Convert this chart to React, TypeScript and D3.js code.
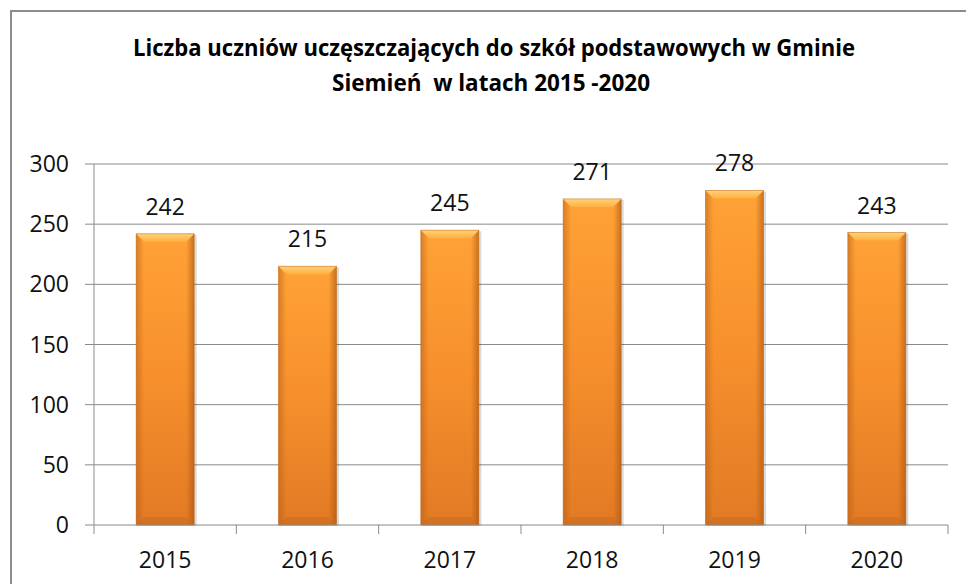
import React from 'react';
import * as d3 from 'd3';

const years = ['2015', '2016', '2017', '2018', '2019', '2020'];
const pupils = [242, 215, 245, 271, 278, 243];
const yTicks = [0, 50, 100, 150, 200, 250, 300];
const titleLines = ['Liczba uczniów uczęszczających do szkół podstawowych w Gminie', 'Siemień  w latach 2015 -2020'];

const W = 966;
const H = 584;
const plot = { left: 94, right: 948, top: 164, bottom: 525 };
const font = '"Open Sans", "Liberation Sans", sans-serif';
// measured title geometry: [centre x, baseline y, width]
const titleBoxes = [[494, 56, 722], [491, 91, 318]];
const labelSize = 23;

export default function App() {
  const x = d3.scaleBand<string>()
    .domain(years)
    .range([plot.left, plot.right])
    .paddingInner(0.592)
    .paddingOuter(0.296);
  const y = d3.scaleLinear().domain([0, 300]).range([plot.bottom, plot.top]);
  const step = x.step();
  const bw = x.bandwidth();
  const bev = 8;

  return (
    <svg width={W} height={H} style={{ position: 'absolute', left: 0, top: 0, background: '#fff' }}>
      <defs>
        <linearGradient id="barFill" x1="0" y1="0" x2="0" y2="1">
          <stop offset="0" stopColor="#ffa236" />
          <stop offset="0.5" stopColor="#f68f2c" />
          <stop offset="1" stopColor="#e17a24" />
        </linearGradient>
        <linearGradient id="sideL" x1="0" y1="0" x2="1" y2="0">
          <stop offset="0" stopColor="#b35a14" stopOpacity="0.5" />
          <stop offset="1" stopColor="#b35a14" stopOpacity="0" />
        </linearGradient>
        <linearGradient id="sideR" x1="1" y1="0" x2="0" y2="0">
          <stop offset="0" stopColor="#a4520f" stopOpacity="0.6" />
          <stop offset="1" stopColor="#a4520f" stopOpacity="0" />
        </linearGradient>
        <linearGradient id="topBev" x1="0" y1="0" x2="0" y2="1">
          <stop offset="0" stopColor="#ffd27a" />
          <stop offset="1" stopColor="#ffb040" />
        </linearGradient>
      </defs>

      {/* outer frame */}
      <rect x={11} y={11} width={W + 20} height={H + 20} fill="#fff" stroke="#8c8c8c" strokeWidth={2} />

      {titleLines.map((t, i) => (
        <text key={i} x={titleBoxes[i][0]} y={titleBoxes[i][1]} textAnchor="middle" fontFamily={font}
          fontWeight="bold" fontSize={22.5} fill="#000" textLength={titleBoxes[i][2]}
          lengthAdjust="spacingAndGlyphs" style={{ whiteSpace: 'pre' }}>{t}</text>
      ))}

      {/* gridlines + y axis */}
      {yTicks.map(v => (
        <g key={v}>
          {v > 0 && <line x1={plot.left} x2={plot.right} y1={y(v)} y2={y(v)} stroke="#8a8a8a" strokeWidth={1} />}
          <line x1={plot.left - 9} x2={plot.left} y1={y(v)} y2={y(v)} stroke="#8a8a8a" strokeWidth={1} />
          <text x={69} y={y(v)} dy="0.35em" textAnchor="end" fontFamily={font} fontSize={labelSize} fill="#111">{v}</text>
        </g>
      ))}
      <line x1={plot.left} x2={plot.left} y1={plot.top} y2={plot.bottom} stroke="#8a8a8a" strokeWidth={1} />

      {/* bars */}
      {years.map((yr, i) => {
        const x0 = x(yr)!;
        const y0 = y(pupils[i]);
        const h = plot.bottom - y0;
        return (
          <g key={yr}>
            <rect x={x0 + 1} y={y0 + 1} width={bw + 1.5} height={h} fill="#000" opacity={0.14} />
            <rect x={x0} y={y0} width={bw} height={h} fill="url(#barFill)" />
            <rect x={x0} y={y0} width={bev} height={h} fill="url(#sideL)" />
            <rect x={x0 + bw - bev} y={y0} width={bev} height={h} fill="url(#sideR)" />
            <polygon points={`${x0},${y0} ${x0 + bw},${y0} ${x0 + bw - bev},${y0 + bev} ${x0 + bev},${y0 + bev}`}
              fill="url(#topBev)" />
            <polygon points={`${x0},${plot.bottom} ${x0 + bw},${plot.bottom} ${x0 + bw - bev},${plot.bottom - bev} ${x0 + bev},${plot.bottom - bev}`}
              fill="#c8691f" opacity={0.5} />
            <rect x={x0} y={y0} width={bw} height={h} fill="none" stroke="#c06a22" strokeOpacity={0.6} strokeWidth={0.8} />
            <text x={x0 + bw / 2} y={y0 - 19} textAnchor="middle" fontFamily={font} fontSize={labelSize} fill="#111">{pupils[i]}</text>
          </g>
        );
      })}

      {/* x axis */}
      <line x1={plot.left} x2={plot.right} y1={plot.bottom} y2={plot.bottom} stroke="#8a8a8a" strokeWidth={1} />
      {d3.range(years.length + 1).map(i => (
        <line key={i} x1={plot.left + i * step} x2={plot.left + i * step} y1={plot.bottom} y2={plot.bottom + 9}
          stroke="#8a8a8a" strokeWidth={1} />
      ))}
      {years.map(yr => (
        <text key={yr} x={x(yr)! + bw / 2} y={568} textAnchor="middle" fontFamily={font} fontSize={labelSize} fill="#111">{yr}</text>
      ))}
    </svg>
  );
}
